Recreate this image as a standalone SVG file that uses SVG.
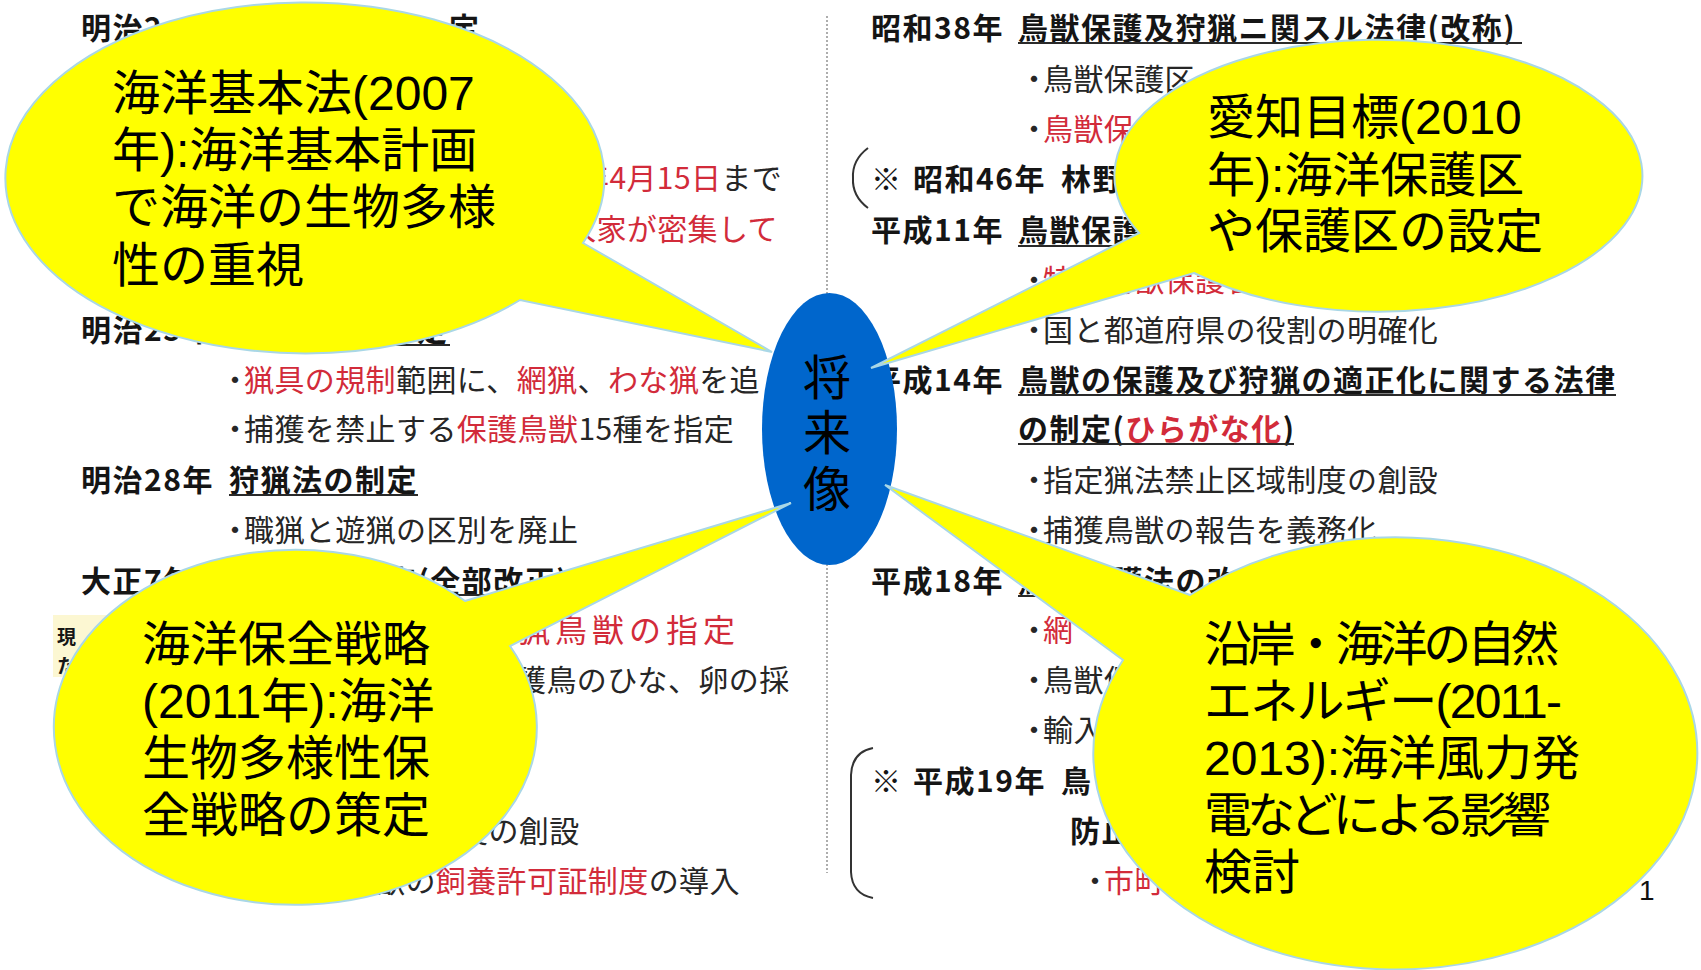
<svg xmlns="http://www.w3.org/2000/svg" width="1701" height="970" viewBox="0 0 1701 970">
<style>
.t{font-family:"Noto Sans CJK JP","Liberation Sans",sans-serif;font-size:30px;fill:#262626;letter-spacing:0.4px}
.b{font-weight:bold;fill:#151515;letter-spacing:1.5px}
.r{fill:#d22b3a}
.dot{letter-spacing:-6px}
.ul{stroke:#2a2a2a;stroke-width:2}
.br{fill:none;stroke:#333;stroke-width:2}
.co{fill:#ffff00;stroke:#a9d7e6;stroke-width:2}
.ct{font-family:"Liberation Sans","Noto Sans CJK JP",sans-serif;font-size:48px;fill:#000}
</style>
<rect width="1701" height="970" fill="#fff"/>
<g id="slide">
<line x1="827" y1="16" x2="827" y2="873" stroke="#777" stroke-width="1.2" stroke-dasharray="2 2"/>
<text class="t b" x="81" y="38.5">明治2</text>
<text class="t b" x="449" y="38.5">定</text>
<text class="t" x="579" y="189"><tspan class="r">年4月15日</tspan>まで</text>
<text class="t r" x="566" y="239.5">人家が密集して</text>
<text class="t b" x="81" y="341">明治25年</text>
<text class="t b" x="417" y="341">定</text>
<line class="ul" x1="229" y1="345" x2="450" y2="345"/>
<text class="t" x="220" y="391"><tspan class="dot">・</tspan><tspan class="r">猟具の規制</tspan>範囲に、<tspan class="r">網猟</tspan>、<tspan class="r">わな猟</tspan>を追</text>
<text class="t" x="220" y="440"><tspan class="dot">・</tspan>捕獲を禁止する<tspan class="r">保護鳥獣</tspan>15種を指定</text>
<text class="t b" x="81" y="491">明治28年</text>
<text class="t b" x="229" y="491">狩猟法の制定</text>
<line class="ul" x1="229" y1="495" x2="418" y2="495"/>
<text class="t" x="220" y="541"><tspan class="dot">・</tspan>職猟と遊猟の区別を廃止</text>
<text class="t b" x="81" y="592">大正7年</text>
<text class="t b" x="386" y="592">定(全部改正)</text>
<line class="ul" x1="386" y1="595" x2="600" y2="595"/>
<rect x="53" y="615" width="220" height="62" fill="#fcf7d2"/>
<text class="t b" style="font-size:19px;letter-spacing:0" x="57" y="644">現</text>
<text class="t b" style="font-size:19px;letter-spacing:0" x="57" y="673">た</text>
<text class="t r" style="font-size:32px;letter-spacing:5px" x="518" y="642">猟鳥獣の指定</text>
<text class="t" x="516" y="691">護鳥のひな、卵の採</text>
<text class="t" x="458" y="842">度の創設</text>
<text class="t" x="375" y="892">獣の<tspan class="r">飼養許可証制度</tspan>の導入</text>

<text class="t b" x="871" y="38.5">昭和38年</text>
<text class="t b" x="1018" y="38.5">鳥獣保護及狩猟ニ関スル法律(改称)</text>
<line class="ul" x1="1018" y1="43" x2="1522" y2="43"/>
<text class="t" x="1019" y="89.5"><tspan class="dot">・</tspan>鳥獣保護区</text>
<text class="t" x="1019" y="139.5"><tspan class="dot">・</tspan><tspan class="r">鳥獣保</tspan></text>
<path class="br" d="M868,148 Q852,160 853,178 Q852,196 868,208"/>
<text class="t b" x="871" y="189.5">※<tspan x="913">昭和46年</tspan><tspan x="1061">林野</tspan></text>
<text class="t b" x="871" y="240.5">平成11年</text>
<text class="t b" x="1018" y="240.5">鳥獣保護</text>
<line class="ul" x1="1018" y1="246" x2="1200" y2="246"/>
<text class="t" x="1019" y="290.5"><tspan class="dot">・</tspan><tspan class="r">特定鳥獣保護管理計画制度の創設</tspan>、</text>
<text class="t" x="1019" y="340.5"><tspan class="dot">・</tspan>国と都道府県の役割の明確化</text>
<text class="t b" x="871" y="390.5">平成14年</text>
<text class="t b" x="1018" y="390.5">鳥獣の保護及び狩猟の適正化に関する法律</text>
<line class="ul" x1="1018" y1="395" x2="1616" y2="395"/>
<text class="t b" x="1018" y="440">の制定(<tspan class="r">ひらがな化</tspan>)</text>
<line class="ul" x1="1018" y1="444" x2="1294" y2="444"/>
<text class="t" x="1019" y="491"><tspan class="dot">・</tspan>指定猟法禁止区域制度の創設</text>
<text class="t" x="1019" y="541"><tspan class="dot">・</tspan>捕獲鳥獣の報告を義務化</text>
<text class="t b" x="871" y="592">平成18年</text>
<text class="t b" x="1018" y="592">鳥獣保護法の改正</text>
<line class="ul" x1="1018" y1="596" x2="1270" y2="596"/>
<text class="t" x="1019" y="641"><tspan class="dot">・</tspan><tspan class="r">網</tspan></text>
<text class="t" x="1019" y="691"><tspan class="dot">・</tspan>鳥獣保</text>
<text class="t" x="1019" y="741"><tspan class="dot">・</tspan>輸入</text>
<path class="br" d="M873,748 Q852,752 851,775 L851,872 Q852,894 873,898"/>
<text class="t b" x="871" y="792">※<tspan x="913">平成19年</tspan><tspan x="1061">鳥</tspan></text>
<text class="t b" x="1070" y="842">防止</text>
<text class="t" x="1080" y="892"><tspan class="dot">・</tspan><tspan class="r">市町</tspan></text>
<text x="1639" y="900" font-family="Liberation Sans, sans-serif" font-size="28" fill="#111">1</text>
</g>
<g id="center-node">
<ellipse cx="829.5" cy="429" rx="67.5" ry="136" fill="#0066cc"/>
</g>
<g id="callout-1">
<path class="co" d="M583,243 L772,352 L520,300 A299.5 175.5 0 1 1 583,243 Z"/>
<text class="ct" x="112" y="110">海洋基本法(2007</text>
<text class="ct" x="112" y="167">年):海洋基本計画</text>
<text class="ct" x="112" y="224">で海洋の生物多様</text>
<text class="ct" x="112" y="282">性の重視</text>
</g>
<g id="callout-2">
<path class="co" d="M1139,233 L871,368 L1194,273 A264 136 0 1 0 1139,233 Z"/>
<text class="ct" x="1207" y="134">愛知目標(2010</text>
<text class="ct" x="1207" y="192">年):海洋保護区</text>
<text class="ct" x="1207" y="248">や保護区の設定</text>
</g>
<g id="callout-3">
<path class="co" d="M465,601 L791,503 L510,646 A241.5 177.5 0 1 1 465,601 Z"/>
<text class="ct" x="142" y="661">海洋保全戦略</text>
<text class="ct" x="142" y="718">(2011年):海洋</text>
<text class="ct" x="142" y="775">生物多様性保</text>
<text class="ct" x="142" y="832">全戦略の策定</text>
</g>
<g id="callout-4">
<path class="co" d="M1190,595 L885,485 L1123,660 A302 216 0 1 0 1190,595 Z"/>
<text class="ct" x="1204" y="661" textLength="355" lengthAdjust="spacing">沿岸・海洋の自然</text>
<text class="ct" x="1204" y="718" textLength="358" lengthAdjust="spacing">エネルギー(2011-</text>
<text class="ct" x="1204" y="775">2013):海洋風力発</text>
<text class="ct" x="1204" y="832" textLength="347" lengthAdjust="spacing">電などによる影響</text>
<text class="ct" x="1204" y="889">検討</text>
</g>
<g id="center-label">
<text class="ct" x="827" y="395" text-anchor="middle">将</text>
<text class="ct" x="827" y="450" text-anchor="middle">来</text>
<text class="ct" x="827" y="506" text-anchor="middle">像</text>
</g>
</svg>
